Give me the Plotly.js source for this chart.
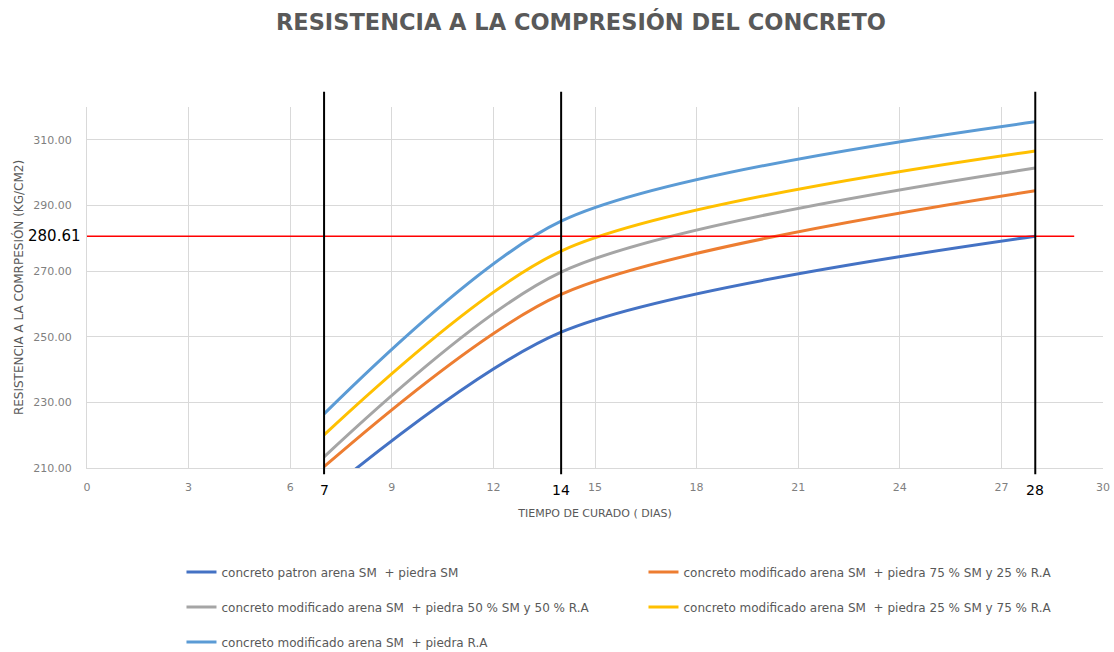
<!DOCTYPE html>
<html>
<head>
<meta charset="utf-8">
<script src="https://cdn.plot.ly/plotly-3.0.1.min.js"></script>
<style>
  html, body { margin: 0; padding: 0; background: #ffffff; }
  #chart { width: 1114px; height: 652px; }
</style>
</head>
<body>
<div id="chart"></div>
<script>
// Curing ages (days) at which the cylinders were tested
const dias = [7, 14, 28];

// Compressive strength (kg/cm2) for each mix
const patron     = [202.0, 251.4, 280.61];
const mod75SM    = [210.4, 262.9, 294.5];
const mod50SM    = [213.4, 269.7, 301.4];
const mod25SM    = [220.1, 276.1, 306.6];
const modRA      = [226.5, 285.2, 315.5];

// Design strength reference and marked curing ages
const resistenciaDiseno = 280.61;
const edadesMarcadas = [7, 14, 28];

const nombres = [
  'concreto patron arena SM  + piedra SM',
  'concreto modificado arena SM  + piedra 75 % SM y 25 % R.A',
  'concreto modificado arena SM  + piedra 50 % SM y 50 % R.A',
  'concreto modificado arena SM  + piedra 25 % SM y 75 % R.A',
  'concreto modificado arena SM  + piedra R.A'
];
const series = [patron, mod75SM, mod50SM, mod25SM, modRA];
const colores = ['#4472C4', '#ED7D31', '#A5A5A5', '#FFC000', '#5B9BD5'];
const leyendas = ['legend', 'legend', 'legend2', 'legend2', 'legend3'];

const FONT = 'DejaVu Sans, Liberation Sans, sans-serif';
const GRIS = '#595959';

const traces = series.map((vals, i) => ({
  type: 'scatter',
  mode: 'lines',
  x: dias,
  y: vals,
  name: nombres[i],
  legend: leyendas[i],
  line: { color: colores[i], width: 3, shape: 'spline', smoothing: 0.8 },
  hoverinfo: 'x+y+name'
}));

const shapes = [
  {
    type: 'line', xref: 'x', yref: 'y',
    x0: 0, x1: 29.15, y0: resistenciaDiseno, y1: resistenciaDiseno,
    line: { color: '#FF0000', width: 1.5 }
  }
].concat(edadesMarcadas.map(d => ({
  type: 'line', xref: 'x', yref: 'paper',
  x0: d, x1: d, y0: -0.017, y1: 1.042,
  line: { color: '#000000', width: 2 }
})));

const annotations = [
  {
    xref: 'paper', yref: 'y', x: -0.0315, y: resistenciaDiseno,
    text: resistenciaDiseno.toFixed(2), showarrow: false,
    font: { family: FONT, size: 15, color: '#000000' },
    xanchor: 'center', yanchor: 'middle'
  }
].concat(edadesMarcadas.map(d => ({
  xref: 'x', yref: 'paper', x: d, y: -0.061,
  text: String(d), showarrow: false,
  font: { family: FONT, size: 14, color: '#000000' },
  xanchor: 'center', yanchor: 'middle'
})));

const legendBase = {
  orientation: 'h',
  xanchor: 'left',
  yanchor: 'middle',
  x: 0.093,
  entrywidth: 417,
  entrywidthmode: 'pixels',
  font: { family: FONT, size: 12, color: GRIS },
  bgcolor: 'rgba(0,0,0,0)',
  borderwidth: 0
};

const layout = {
  width: 1114,
  height: 652,
  margin: { l: 87, r: 11, t: 107, b: 184, autoexpand: false },
  paper_bgcolor: '#ffffff',
  plot_bgcolor: '#ffffff',
  font: { family: FONT, color: GRIS },
  title: {
    text: '<b>RESISTENCIA A LA COMPRESIÓN DEL CONCRETO</b>',
    font: { family: FONT, size: 22.5, color: GRIS },
    x: 0.5215, xref: 'container', xanchor: 'center',
    y: 0.966, yref: 'container', yanchor: 'middle'
  },
  xaxis: {
    range: [0, 30],
    tick0: 0, dtick: 3,
    showgrid: true, gridcolor: '#D9D9D9', gridwidth: 1,
    showline: true, linecolor: '#D9D9D9', linewidth: 1,
    zeroline: false, ticks: '',
    ticklabelstandoff: 9,
    tickfont: { family: FONT, size: 11, color: '#7F7F7F' },
    title: {
      text: 'TIEMPO DE CURADO ( DIAS)',
      font: { family: FONT, size: 11, color: GRIS },
      standoff: 16
    },
    fixedrange: true
  },
  yaxis: {
    range: [210, 320],
    tick0: 210, dtick: 20,
    tickformat: '.2f',
    showgrid: true, gridcolor: '#D9D9D9', gridwidth: 1,
    showline: true, linecolor: '#D9D9D9', linewidth: 1,
    zeroline: false, ticks: '',
    ticklabelstandoff: 12,
    tickfont: { family: FONT, size: 11, color: '#7F7F7F' },
    title: {
      text: 'RESISTENCIA A LA COMRPESIÓN (KG/CM2)',
      font: { family: FONT, size: 12, color: GRIS },
      standoff: 7
    },
    fixedrange: true
  },
  legend:  Object.assign({}, legendBase, { y: -0.288 }),
  legend2: Object.assign({}, legendBase, { y: -0.385 }),
  legend3: Object.assign({}, legendBase, { y: -0.482 }),
  shapes: shapes,
  annotations: annotations,
  showlegend: true
};

Plotly.newPlot('chart', traces, layout, { displayModeBar: false, staticPlot: true });
</script>
</body>
</html>
